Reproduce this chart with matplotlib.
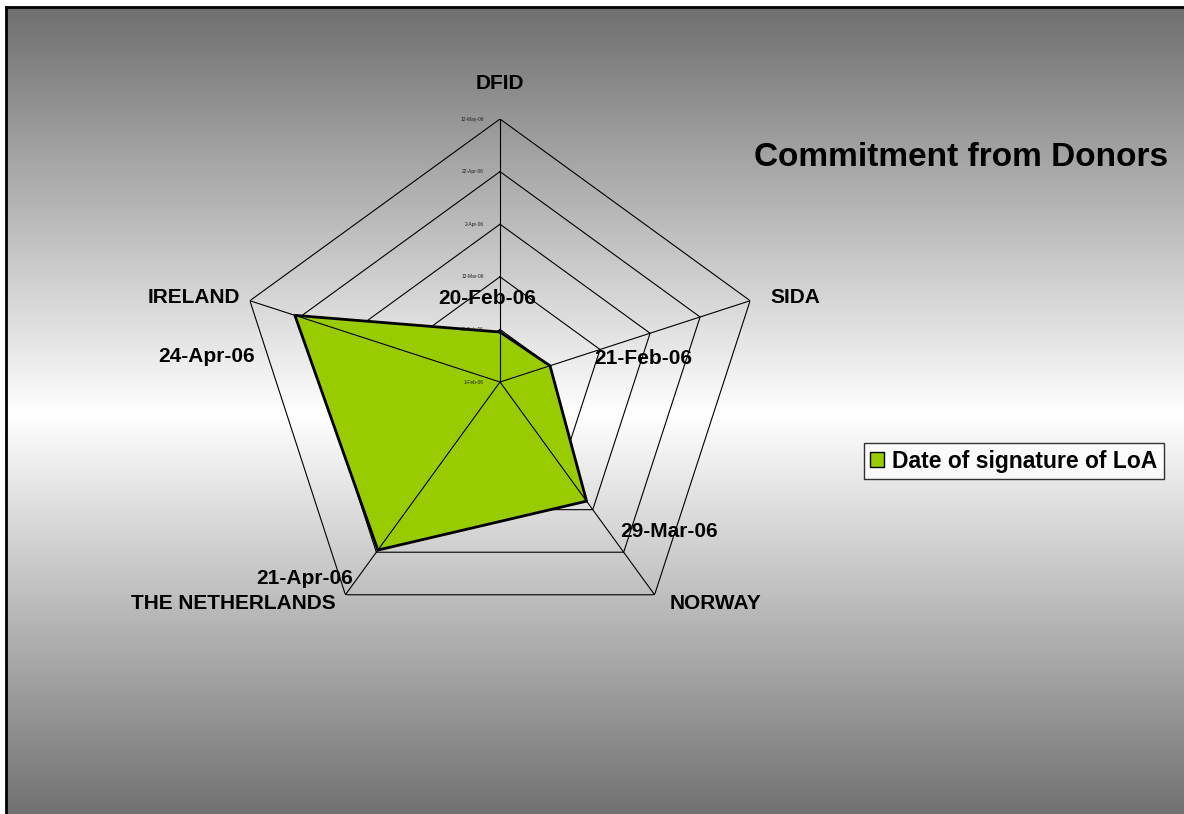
import matplotlib
matplotlib.use("Agg")
import matplotlib.pyplot as plt
import numpy as np
from matplotlib.lines import Line2D
from matplotlib.patches import Patch

plt.rcParams['font.family'] = ['Liberation Sans', 'DejaVu Sans']

# data: days since 1-Feb-06
donors = ['DFID', 'SIDA', 'NORWAY', 'THE NETHERLANDS', 'IRELAND']
sign_labels = ['20-Feb-06', '21-Feb-06', '29-Mar-06', '21-Apr-06', '24-Apr-06']
sign_days = [19, 20, 56, 79, 82]
ring_days = [0, 20, 40, 60, 80, 100]
ring_labels = ['1-Feb-06', '21-Feb-06', '13-Mar-06', '2-Apr-06', '22-Apr-06', '12-May-06']

W, H = 1184, 814
fig = plt.figure(figsize=(W / 100, H / 100), dpi=100)
fig.patch.set_facecolor('white')

# gradient background (dark grey - white - dark grey)
bg = fig.add_axes([6 / W, -0.01, 1.02 - 6 / W, 1.01 - 7 / H])
t = np.linspace(0, 1, 256)
grad = 1 - np.abs(t - 0.5) * 2
shade = 0.435 + (1 - 0.435) * grad
img = np.dstack([shade, shade, shade]).reshape(256, 1, 3)
bg.imshow(img, aspect='auto', extent=[0, 1, 0, 1])
bg.set_axis_off()
fig.add_artist(Line2D([6 / W, 6 / W], [0, 1 - 7 / H], color='black', lw=2, transform=fig.transFigure))
fig.add_artist(Line2D([6 / W, 1], [1 - 7 / H, 1 - 7 / H], color='black', lw=2, transform=fig.transFigure))

# radar axes
cx, cy, R = 500, 382, 263
ax = fig.add_axes([(cx - R) / W, 1 - (cy + R) / H, 2 * R / W, 2 * R / H], projection='polar')
ax.set_theta_offset(np.pi / 2)
ax.set_theta_direction(-1)
ax.set_ylim(0, 100)
ax.patch.set_alpha(0)
ax.grid(False)
ax.set_xticks([])
ax.set_yticks([])
ax.spines['polar'].set_visible(False)

n = len(donors)
theta = np.arange(n) * 2 * np.pi / n
theta_c = np.append(theta, theta[0])

for rd in ring_days[1:]:
    ax.plot(theta_c, [rd] * (n + 1), color='black', lw=0.8, zorder=1)
for th in theta:
    ax.plot([th, th], [0, 100], color='black', lw=0.8, zorder=1)

vals = np.array(sign_days + [sign_days[0]])
ax.fill(theta_c, vals, color='#99CC00', zorder=2)
ax.plot(theta_c, vals, color='black', lw=2, zorder=3)
# spokes visible over fill
for th, v in zip(theta, sign_days):
    ax.plot([th, th], [0, v], color='black', lw=0.8, zorder=4)

# ring tick labels
for rd, lab in zip(ring_days, ring_labels):
    ax.annotate(lab, xy=(0, rd), xytext=(-16, 0), textcoords='offset pixels',
                ha='right', va='center', fontsize=3.5, color='#222222', zorder=5)

# category labels
cat_off = [(0, 36, 'center'), (20, 3, 'left'), (15, -9, 'left'), (-10, -9, 'right'), (-10, 3, 'right')]
for th, name, (dx, dy, ha) in zip(theta, donors, cat_off):
    ax.annotate(name, xy=(th, 100), xytext=(dx, dy), textcoords='offset pixels',
                ha=ha, va='center', fontsize=15, fontweight='bold', zorder=5)

# data labels
dat_off = [(-13, 34), (93, 7), (82, -30), (-73, -28), (-88, -41)]
for th, v, lab, (dx, dy) in zip(theta, sign_days, sign_labels, dat_off):
    ax.annotate(lab, xy=(th, v), xytext=(dx, dy), textcoords='offset pixels',
                ha='center', va='center', fontsize=15, fontweight='bold', zorder=5)

fig.text(961 / W, 1 - 157 / H, 'Commitment from Donors', ha='center', va='center',
         fontsize=24, fontweight='bold')

leg = fig.legend(handles=[Patch(facecolor='#99CC00', edgecolor='black', label='Date of signature of LoA')],
                 loc='center', bbox_to_anchor=(1014 / W, 1 - 461 / H), frameon=True,
                 fancybox=False, edgecolor='black', prop={'size': 16.5, 'weight': 'bold'},
                 handlelength=0.6, handleheight=0.6, handletextpad=0.35, borderpad=0.3)
leg.get_frame().set_linewidth(1)
leg.get_frame().set_facecolor('white')

fig.savefig('out.png', dpi=100)
